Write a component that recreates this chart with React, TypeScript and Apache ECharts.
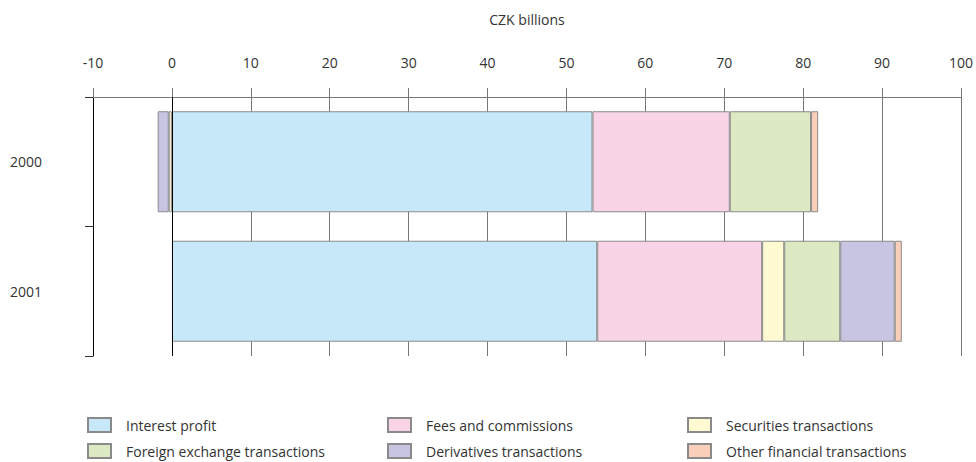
import React, { useEffect, useRef } from "react";
import * as echarts from "echarts";

const categories = ["2000", "2001"];
const seriesNames = [
  "Interest profit",
  "Fees and commissions",
  "Securities transactions",
  "Foreign exchange transactions",
  "Derivatives transactions",
  "Other financial transactions",
];
const interestProfit = [53.3, 53.9];
const feesCommissions = [17.4, 20.9];
const securitiesTransactions = [-0.4, 2.8];
const fxTransactions = [10.3, 7.1];
const derivativesTransactions = [-1.4, 6.9];
const otherTransactions = [0.9, 0.9];
const xTicks = { min: -10, max: 100, interval: 10 };

const colors = ["#C7E8F9", "#F8D4E6", "#FFFAD2", "#DCE9C3", "#C7C5E1", "#FACFBA"];
const values = [
  interestProfit,
  feesCommissions,
  securitiesTransactions,
  fxTransactions,
  derivativesTransactions,
  otherTransactions,
];

const FONT = "'Open Sans', sans-serif";

export default function App() {
  const ref = useRef<HTMLDivElement>(null);
  useEffect(() => {
    document.body.style.margin = "0";
    if (!ref.current) return;
    const chart = echarts.init(ref.current, undefined, { renderer: "svg" });
    const series: any[] = seriesNames.map((name, i) => ({
      name,
      type: "bar",
      stack: "total",
      data: values[i],
      barWidth: "78%",
      z: 3,
      itemStyle: { color: colors[i], borderColor: "#8a8a8a", borderWidth: 1 },
      emphasis: { disabled: true },
    }));
    series.push({
      name: "zero",
      type: "line",
      data: [],
      z: 1,
      silent: true,
      markLine: {
        silent: true,
        symbol: "none",
        label: { show: false },
        lineStyle: { color: "#000", width: 1, type: "solid" },
        data: [{ xAxis: 0 }],
      },
    });
    const legendCol = (left: number, data: string[]) => ({
      orient: "vertical",
      left,
      top: 417,
      height: 45,
      padding: 0,
      icon: "rect",
      itemWidth: 23,
      itemHeight: 14,
      itemGap: 10,
      selectedMode: false,
      data,
      textStyle: { fontFamily: FONT, fontSize: 14, color: "#333", padding: [0, 0, 0, 10] },
    });
    chart.setOption({
      animation: false,
      textStyle: { fontFamily: FONT },
      grid: { left: 93, right: 7, top: 97, bottom: 106, containLabel: false },
      legend: [
        legendCol(87, [seriesNames[0], seriesNames[3]]),
        legendCol(387, [seriesNames[1], seriesNames[4]]),
        legendCol(687, [seriesNames[2], seriesNames[5]]),
      ],
      xAxis: {
        type: "value",
        position: "top",
        min: xTicks.min,
        max: xTicks.max,
        interval: xTicks.interval,
        name: "CZK billions",
        nameLocation: "middle",
        nameGap: 71,
        nameTextStyle: { fontFamily: FONT, fontSize: 14, color: "#333" },
        axisLine: { show: true, onZero: false, lineStyle: { color: "#777", width: 1 } },
        axisTick: { show: true, length: 9, lineStyle: { color: "#777" } },
        axisLabel: { fontFamily: FONT, fontSize: 14, color: "#333", margin: 28 },
        splitLine: { show: true, lineStyle: { color: "#777", width: 1 } },
      },
      yAxis: {
        type: "category",
        inverse: true,
        data: categories,
        axisLine: { show: true, onZero: false, lineStyle: { color: "#000", width: 1 } },
        axisTick: { show: true, length: 8, lineStyle: { color: "#333" } },
        axisLabel: { fontFamily: FONT, fontSize: 14, color: "#333", margin: 83, align: "left", padding: [3, 0, 0, 0] },
      },
      series,
    });
    return () => chart.dispose();
  }, []);
  return <div ref={ref} style={{ width: 976, height: 462 }} />;
}
